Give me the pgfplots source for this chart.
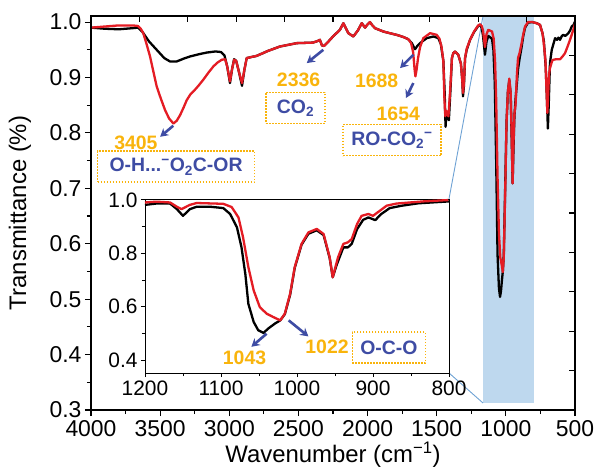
\documentclass[border=0pt]{standalone}
\usepackage{fontspec}
\setmainfont{Liberation Sans}
\usepackage{pgfplots}
\pgfplotsset{compat=1.18}
\usetikzlibrary{arrows.meta}

\definecolor{ired}{RGB}{228,28,36}
\definecolor{igold}{RGB}{249,180,12}
\definecolor{iblue}{RGB}{62,76,164}
\definecolor{ishade}{RGB}{190,216,238}
\definecolor{iline}{RGB}{110,162,212}

\tikzset{
  spec/.style={line width=2.3bp, line join=round},
  lbl/.style={font=\fontsize{19.5}{20}\selectfont\bfseries},
  num/.style={lbl, text=igold, inner sep=0pt},
  tag/.style={lbl, text=iblue, draw=igold, line width=1.6bp, dash pattern=on 1.6bp off 1.4bp, inner sep=0pt, minimum height=31bp},
  arr/.style={iblue, line width=2.6bp, -{Stealth[length=8bp,width=9bp]}},
}

\begin{document}
\begin{tikzpicture}
\begin{axis}[
  scale only axis, width=484bp, height=394bp,
  xmin=500, xmax=4000, x dir=reverse,
  ymin=0.3, ymax=1.011,
  xtick={500,1000,1500,2000,2500,3000,3500,4000}, minor x tick num=1,
  ytick={0.3,0.4,0.5,0.6,0.7,0.8,0.9,1.0}, minor y tick num=1,
  xtick pos=bottom, ytick pos=left, tick align=outside,
  major tick length=6bp, minor tick length=4bp,
  axis line style={line width=1.2bp},
  tick style={black, line width=1.1bp},
  /pgf/number format/assume math mode=true,
  /pgf/number format/1000 sep={},
  yticklabel style={/pgf/number format/.cd, fixed, fixed zerofill, precision=1},
  xticklabel style={yshift=-1bp},
  tick label style={font=\fontsize{23}{23}\selectfont},
  label style={font=\fontsize{24}{26}\selectfont},
  xlabel={Wavenumber (cm\textsuperscript{−1})},
  ylabel={Transmittance (\%)},
  xlabel style={at={(axis description cs:0.5,-0.114)}, anchor=center},
  ylabel style={at={(axis description cs:-0.1467,0.5)}, anchor=center},
]
% zoomed band and its connectors
\addplot[draw=none, fill=ishade] coordinates {(1165,0.3126) (797,0.3126) (797,1.011) (1165,1.011)} --cycle;
\addplot[iline, line width=0.9bp] coordinates {(1411,0.681) (1165,1.011)};
\addplot[iline, line width=0.9bp] coordinates {(1411,0.3668) (1165,0.3126)};

% black spectrum
\addplot[black, spec] coordinates {
(4000,0.990) (3900,0.988) (3800,0.987) (3700,0.989) (3660,0.990) (3630,0.983) (3580,0.965)
(3525,0.950) (3470,0.935) (3429,0.929) (3380,0.929) (3330,0.934) (3284,0.938) (3220,0.942)
(3163,0.945) (3100,0.947) (3060,0.946) (3035,0.940) (3015,0.920) (2995,0.890) (2980,0.915)
(2965,0.933) (2950,0.930) (2930,0.910) (2908,0.885) (2890,0.915) (2874,0.935) (2840,0.937)
(2802,0.939) (2720,0.948) (2633,0.956) (2512,0.962) (2394,0.963) (2360,0.966) (2345,0.968)
(2330,0.958) (2315,0.957) (2290,0.963) (2250,0.974) (2200,0.986) (2175,0.998) (2155,0.988)
(2139,0.980) (2103,0.974) (2070,0.985) (2042,0.998) (2030,0.994) (2018,0.990) (2000,0.996)
(1983,1.000) (1965,0.994) (1946,0.989) (1886,0.983) (1840,0.980) (1790,0.977) (1740,0.973)
(1705,0.969) (1680,0.962) (1657,0.951) (1640,0.957) (1621,0.962) (1572,0.971) (1524,0.974)
(1488,0.971) (1470,0.960) (1452,0.930) (1442,0.870) (1436,0.811) (1430,0.835) (1422,0.828)
(1412,0.823) (1400,0.880) (1390,0.935) (1380,0.944) (1368,0.947) (1344,0.941) (1325,0.925)
(1315,0.895) (1310,0.866) (1303,0.885) (1295,0.935) (1283,0.950) (1259,0.968) (1230,0.982)
(1200,0.993) (1187,0.995) (1175,0.990) (1165,0.975) (1151,0.941) (1140,0.965) (1127,0.975)
(1100,0.970) (1090,0.950) (1080,0.890) (1070,0.750) (1060,0.580) (1050,0.520) (1042,0.504)
(1035,0.515) (1028,0.535) (1022,0.550) (1015,0.580) (1005,0.700) (995,0.820) (985,0.875)
(975,0.895) (965,0.870) (957,0.780) (951,0.709) (945,0.770) (938,0.830) (930,0.860)
(920,0.890) (912,0.915) (900,0.935) (886,0.955) (874,0.975) (861,0.990) (840,0.999)
(810,1.000) (777,0.998) (753,0.995) (735,0.980) (725,0.965) (712,0.920) (703,0.860)
(696,0.808) (690,0.850) (681,0.926) (668,0.950) (644,0.971) (630,0.968) (620,0.972)
(608,0.968) (595,0.975) (584,0.977) (570,0.975) (548,0.980) (535,0.985) (524,0.992)
(510,0.995) (500,1.001)
};
% red spectrum
\addplot[ired, spec] coordinates {
(4000,0.990) (3900,0.992) (3800,0.994) (3700,0.994) (3660,0.993) (3640,0.988) (3622,0.980)
(3600,0.962) (3573,0.938) (3550,0.912) (3525,0.884) (3495,0.862) (3464,0.841) (3435,0.826)
(3404,0.817) (3380,0.822) (3356,0.832) (3330,0.846) (3308,0.859) (3280,0.870) (3248,0.878)
(3220,0.886) (3188,0.896) (3150,0.909) (3115,0.920) (3085,0.927) (3055,0.932) (3030,0.933)
(3015,0.920) (2995,0.893) (2980,0.915) (2965,0.932) (2950,0.930) (2930,0.910) (2908,0.890)
(2890,0.915) (2874,0.935) (2840,0.937)
(2802,0.939) (2720,0.948) (2633,0.956) (2512,0.962) (2394,0.963) (2360,0.966) (2345,0.968)
(2330,0.958) (2315,0.957) (2290,0.963) (2250,0.974) (2200,0.986) (2175,0.998) (2155,0.988)
(2139,0.980) (2103,0.974) (2070,0.985) (2042,0.998) (2030,0.994) (2018,0.990) (2000,0.996)
(1983,1.000) (1965,0.994) (1946,0.989) (1886,0.983) (1840,0.980) (1790,0.977) (1740,0.973)
(1705,0.969) (1685,0.962) (1670,0.945) (1660,0.915) (1654,0.902) (1645,0.915) (1635,0.935)
(1620,0.955) (1597,0.971) (1548,0.980) (1500,0.977) (1480,0.970) (1465,0.955) (1452,0.930)
(1444,0.860) (1438,0.830) (1432,0.840) (1425,0.835) (1415,0.830) (1402,0.880) (1390,0.935)
(1380,0.944) (1368,0.947) (1344,0.941) (1325,0.925) (1315,0.895) (1310,0.872) (1303,0.890)
(1295,0.935) (1283,0.952) (1259,0.968) (1230,0.983) (1200,0.994) (1187,0.996) (1175,0.993)
(1165,0.985) (1151,0.955) (1140,0.978) (1127,0.986) (1100,0.983) (1088,0.970) (1078,0.930)
(1070,0.860) (1060,0.720) (1050,0.620) (1040,0.575) (1030,0.562) (1022,0.549) (1015,0.575)
(1005,0.690) (995,0.820) (985,0.875) (975,0.898) (965,0.872) (957,0.785) (951,0.709)
(945,0.780) (938,0.835) (930,0.850) (920,0.905) (912,0.935) (900,0.945) (886,0.962)
(874,0.978) (861,0.992) (840,1.000) (810,1.000) (777,0.998) (753,0.995) (735,0.980)
(725,0.960) (714,0.932) (706,0.880) (700,0.836) (694,0.870) (688,0.905) (681,0.917)
(665,0.930) (657,0.932) (635,0.933) (608,0.933) (590,0.938) (572,0.944) (555,0.955)
(536,0.968) (520,0.980) (512,0.986) (500,0.997)
};

% annotations
\node[num] at (axis cs:3675,0.782) {3405};
\draw[arr] (axis cs:3405,0.813) -- (axis cs:3500,0.793);
\node[tag, minimum width=157bp] at (axis cs:3385,0.739) {O-H...\textsuperscript{−}O\textsubscript{2}C-OR};
\node[num] at (axis cs:2499,0.8966) {2336};
\draw[arr] (axis cs:2320,0.950) -- (axis cs:2440,0.926);
\node[tag, minimum width=59bp] at (axis cs:2521,0.845) {CO\textsubscript{2}};
\node[num] at (axis cs:1934,0.894) {1688};
\draw[arr] (axis cs:1669,0.941) -- (axis cs:1765,0.917);
\draw[arr] (axis cs:1669,0.890) -- (axis cs:1722,0.863);
\node[num] at (axis cs:1778,0.834) {1654};
\node[tag, minimum width=98bp] at (axis cs:1823,0.787) {RO-CO\textsubscript{2}\textsuperscript{−}};
\end{axis}

% mirrored ticks on the top and right edges
\begin{axis}[
  scale only axis, width=484bp, height=394bp,
  xmin=0, xmax=10, ymin=0, ymax=10,
  xtick={1,...,9}, ytick={1,...,9},
  xtick pos=top, ytick pos=right, tick align=inside,
  major tick length=6bp,
  xticklabels={}, yticklabels={},
  axis line style={line width=1.2bp},
  tick style={black, line width=1.1bp},
]
\end{axis}

% inset
\begin{axis}[
  at={(54bp,37bp)}, anchor=south west,
  scale only axis, width=304bp, height=174bp,
  xmin=800, xmax=1200, x dir=reverse,
  ymin=0.352, ymax=1.003,
  xtick={800,900,1000,1100,1200}, minor x tick num=1,
  ytick={0.4,0.6,0.8,1.0}, minor y tick num=1,
  xtick pos=bottom, ytick pos=left, tick align=outside,
  major tick length=4bp, minor tick length=3bp,
  axis background/.style={fill=white},
  axis line style={line width=0.9bp},
  tick style={black, line width=0.9bp},
  /pgf/number format/assume math mode=true,
  /pgf/number format/1000 sep={},
  yticklabel style={/pgf/number format/.cd, fixed, fixed zerofill, precision=1},
  tick label style={font=\fontsize{21}{21}\selectfont},
]
\addplot[black, spec] coordinates {
(1200,0.981) (1185,0.986) (1167,0.986) (1158,0.965) (1150,0.940) (1141,0.965) (1132,0.974)
(1114,0.974) (1097,0.969) (1088,0.947) (1079,0.897) (1073,0.822) (1068,0.723) (1064,0.611)
(1057,0.543) (1051,0.512) (1044,0.502) (1038,0.518) (1029,0.537) (1022,0.549) (1016,0.572)
(1009,0.645) (1003,0.745) (994,0.832) (985,0.873) (974,0.886) (965,0.868) (957,0.782)
(953,0.710) (948,0.755) (939,0.822) (933,0.822) (928,0.835) (921,0.890) (913,0.925)
(906,0.934) (897,0.924) (889,0.947) (878,0.969) (862,0.978) (840,0.987) (800,0.994)
};
\addplot[ired, spec] coordinates {
(1200,0.990) (1185,0.993) (1167,0.990) (1158,0.974) (1152,0.965) (1141,0.981) (1132,0.988)
(1097,0.985) (1086,0.973) (1077,0.934) (1071,0.860) (1064,0.748) (1057,0.661) (1049,0.599)
(1040,0.574) (1031,0.561) (1022,0.549) (1016,0.574) (1009,0.649) (1003,0.748) (994,0.835)
(985,0.878) (974,0.891) (965,0.872) (957,0.785) (953,0.710) (946,0.785) (939,0.835)
(933,0.841) (928,0.853) (921,0.909) (915,0.940) (906,0.947) (900,0.940) (891,0.959)
(882,0.978) (869,0.986) (834,0.994) (801,0.999)
};
\node[num] at (axis cs:1069,0.409) {1043};
\draw[arr] (axis cs:1040,0.499) -- (axis cs:1060,0.450);
\node[num] at (axis cs:960.5,0.450) {1022};
\draw[arr] (axis cs:1011,0.549) -- (axis cs:985,0.489);
\node[tag, minimum width=73bp] at (axis cs:879,0.447) {O-C-O};
\end{axis}

\pgfresetboundingbox
\path[use as bounding box] (-91bp,-63bp) rectangle (506bp,410bp);
\end{tikzpicture}
\end{document}
